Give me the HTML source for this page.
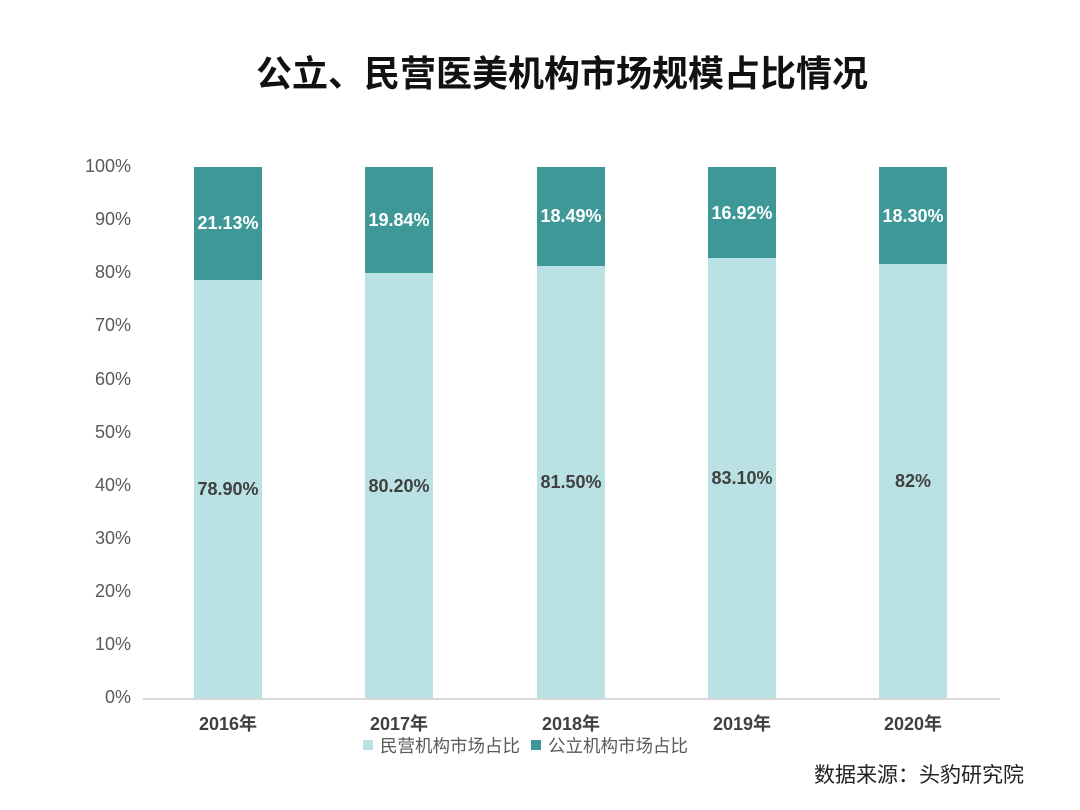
<!DOCTYPE html>
<html><head><meta charset="utf-8"><style>
body{margin:0;width:1080px;height:810px;background:#fff;position:relative;overflow:hidden;font-family:"Liberation Sans","Noto Sans CJK SC",sans-serif}
.a{position:absolute}
.yl{position:absolute;left:60px;width:71px;text-align:right;font-size:18px;color:#595959}
.b{position:absolute;width:68px}
.l{background:#bae2e4}.d{background:#3f9898}
.v{position:absolute;width:120px;text-align:center;font-size:18px;font-weight:bold}
.x{position:absolute;width:120px;text-align:center;font-size:18px;font-weight:bold;color:#404040;top:710px}
</style></head><body>
<div class="a" style="left:0;width:1124px;top:45px;text-align:center;font-size:36px;font-weight:bold;color:#111">公立、民营医美机构市场规模占比情况</div>
<div class="yl" style="top:156px">100%</div>
<div class="yl" style="top:209px">90%</div>
<div class="yl" style="top:262px">80%</div>
<div class="yl" style="top:315px">70%</div>
<div class="yl" style="top:369px">60%</div>
<div class="yl" style="top:422px">50%</div>
<div class="yl" style="top:475px">40%</div>
<div class="yl" style="top:528px">30%</div>
<div class="yl" style="top:581px">20%</div>
<div class="yl" style="top:634px">10%</div>
<div class="yl" style="top:687px">0%</div>
<div class="a" style="left:143px;top:698px;width:857px;height:2px;background:#d9d9d9"></div>

<div class="b d" style="left:194px;top:167px;height:113px"></div><div class="b l" style="left:194px;top:280px;height:418px"></div>
<div class="b d" style="left:365px;top:167px;height:106px"></div><div class="b l" style="left:365px;top:273px;height:425px"></div>
<div class="b d" style="left:537px;top:167px;height:99px"></div><div class="b l" style="left:537px;top:266px;height:432px"></div>
<div class="b d" style="left:708px;top:167px;height:91px"></div><div class="b l" style="left:708px;top:258px;height:440px"></div>
<div class="b d" style="left:879px;top:167px;height:97px"></div><div class="b l" style="left:879px;top:264px;height:434px"></div>

<div class="v" style="left:168px;top:213px;color:#fff">21.13%</div>
<div class="v" style="left:339px;top:210px;color:#fff">19.84%</div>
<div class="v" style="left:511px;top:206px;color:#fff">18.49%</div>
<div class="v" style="left:682px;top:203px;color:#fff">16.92%</div>
<div class="v" style="left:853px;top:206px;color:#fff">18.30%</div>
<div class="v" style="left:168px;top:479px;color:#404040">78.90%</div>
<div class="v" style="left:339px;top:476px;color:#404040">80.20%</div>
<div class="v" style="left:511px;top:472px;color:#404040">81.50%</div>
<div class="v" style="left:682px;top:468px;color:#404040">83.10%</div>
<div class="v" style="left:853px;top:471px;color:#404040">82%</div>

<div class="x" style="left:168px">2016年</div>
<div class="x" style="left:339px">2017年</div>
<div class="x" style="left:511px">2018年</div>
<div class="x" style="left:682px">2019年</div>
<div class="x" style="left:853px">2020年</div>

<div class="a l" style="left:363px;top:740px;width:10px;height:10px"></div>
<div class="a" style="left:380px;top:733px;font-size:17.5px;color:#595959">民营机构市场占比</div>
<div class="a d" style="left:531px;top:740px;width:10px;height:10px"></div>
<div class="a" style="left:548px;top:733px;font-size:17.5px;color:#595959">公立机构市场占比</div>
<div class="a" style="left:814px;top:759px;font-size:21px;color:#222">数据来源：头豹研究院</div>
</body></html>
